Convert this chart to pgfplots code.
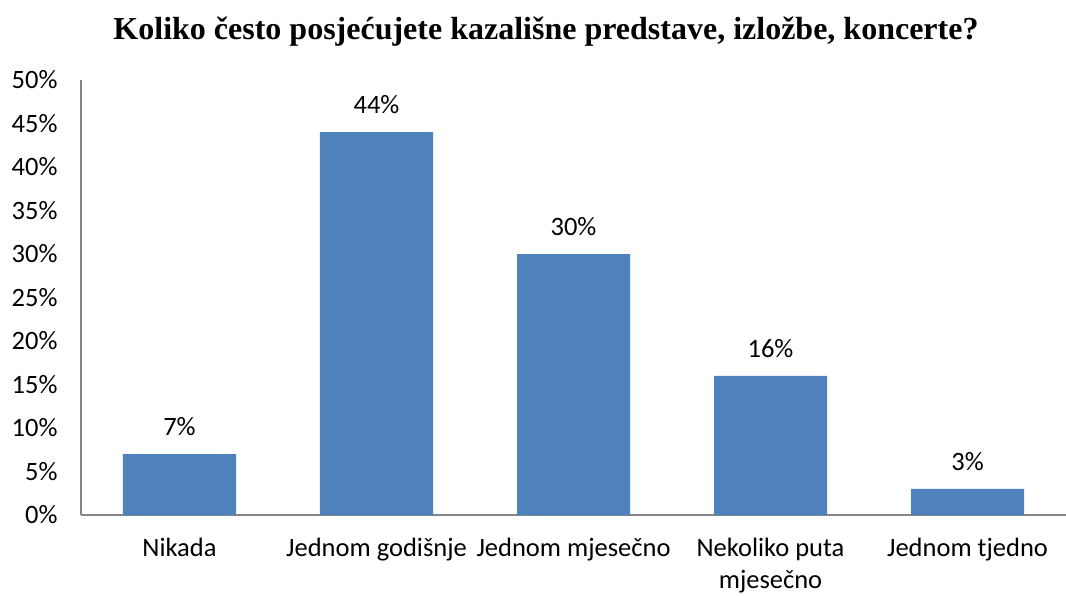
\documentclass[border=0pt]{standalone}
\usepackage{pgfplots}
\pgfplotsset{compat=1.18}
\usepackage{fontspec}
\setmainfont{Carlito}
\newfontfamily\titlefont{Liberation Serif}
\definecolor{barblue}{HTML}{4F81BD}
\definecolor{axgray}{HTML}{868686}
\begin{document}
\begin{tikzpicture}[x=1pt,y=1pt]
\useasboundingbox (0,0) rectangle (1066,595);
\node[font=\titlefont\bfseries\fontsize{32}{36}\selectfont] at (546,563) {Koliko često posjećujete kazališne predstave, izložbe, koncerte?};
\begin{axis}[
  at={(81pt,80pt)}, anchor=south west,
  scale only axis, width=985pt, height=435pt,
  xmin=-0.5, xmax=4.5, ymin=0, ymax=50,
  axis x line=bottom, axis y line=left,
  axis line style={axgray, line width=1.2pt, -},
  xtick=data,
  xticklabels={Nikada, Jednom godišnje, Jednom mjesečno, {Nekoliko puta\\mjesečno}, Jednom tjedno},
  x tick label style={font=\fontsize{26.5}{32}\selectfont, align=center, yshift=-20pt},
  ytick={0,5,...,50},
  yticklabel={\pgfmathprintnumber{\tick}\%},
  y tick label style={font=\fontsize{26.5}{30}\selectfont, xshift=-20pt},
  /pgf/number format/assume math mode=true,
  major tick length=0pt,
  ybar, bar width=113pt,
  nodes near coords={\pgfmathprintnumber{\pgfplotspointmeta}\%},
  nodes near coords style={font=\fontsize{26.5}{30}\selectfont, yshift=15pt},
  clip=false,
]
\addplot[fill=barblue, draw=none] coordinates {(0,7) (1,44) (2,30) (3,16) (4,3)};
\end{axis}
\end{tikzpicture}
\end{document}
